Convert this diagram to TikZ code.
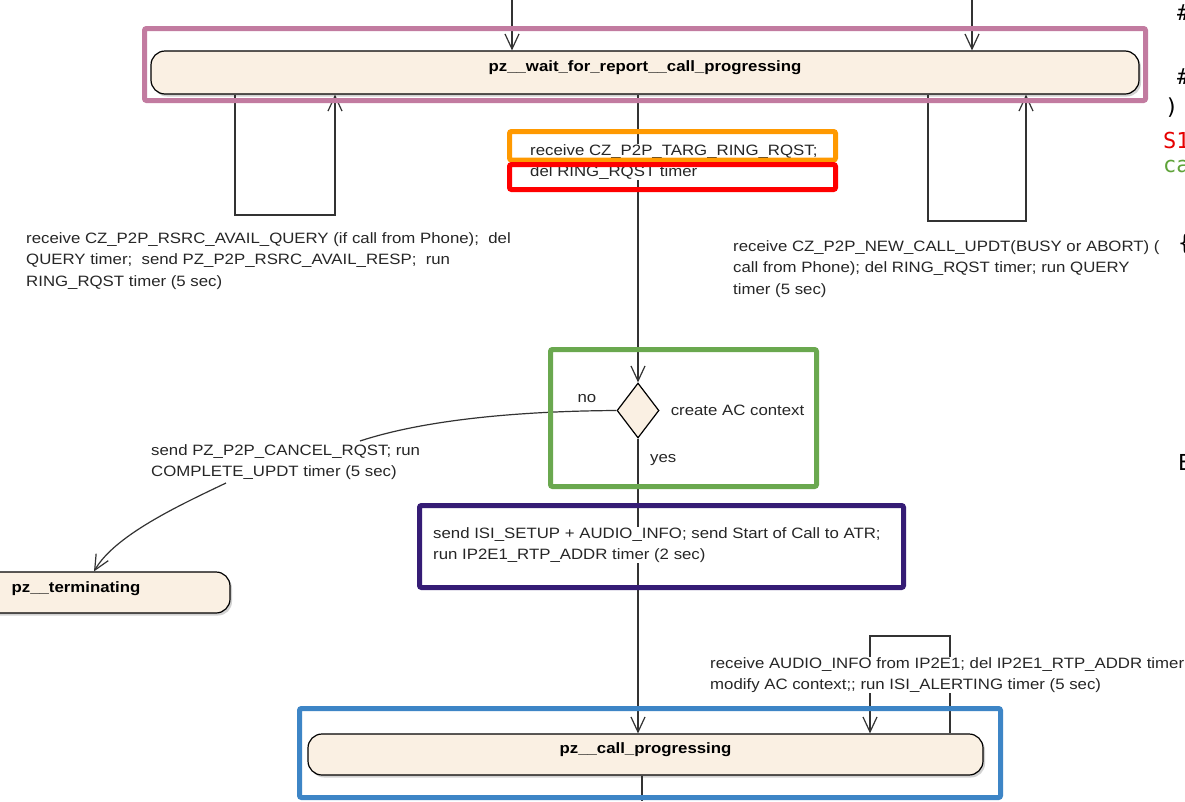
\documentclass[tikz,border=0pt]{standalone}
\usepackage{fontspec}
\setmainfont{Liberation Sans}[FakeStretch=1.12]
\newfontfamily\codefont{DejaVu Sans Mono}
\usetikzlibrary{shapes.geometric, arrows.meta, positioning, shadows}
\definecolor{statefill}{HTML}{FAF0E3}
\definecolor{hlpink}{HTML}{C27BA0}
\definecolor{hlorange}{HTML}{FF9900}
\definecolor{hlred}{HTML}{FF0000}
\definecolor{hlgreen}{HTML}{6AA84F}
\definecolor{hlpurple}{HTML}{351C75}
\definecolor{hlblue}{HTML}{3D85C6}
\definecolor{codered}{HTML}{E60000}
\definecolor{codegreen}{HTML}{5FA33A}
\tikzstyle{statebox} = [rectangle, rounded corners=14pt, draw=black, line width=1.2pt, fill=statefill, inner sep=0pt, text height=11pt, font=\fontsize{15}{18}\selectfont\bfseries, drop shadow={shadow xshift=2pt, shadow yshift=-2.5pt, fill=black!35}]
\tikzstyle{decision} = [diamond, draw=black, line width=1.2pt, fill=statefill, minimum width=42pt, minimum height=55pt, inner sep=0pt]
\tikzstyle{note} = [align=left, inner sep=0pt, fill=white, text=black!85, font=\fontsize{15}{21.8}\selectfont]
\tikzstyle{code} = [anchor=base west, inner sep=0pt, font=\codefont\fontsize{22}{26}\selectfont]
\tikzstyle{wire} = [line width=1.2pt, draw=black!80]
\tikzstyle{arrow} = [wire, -{Straight Barb[length=15pt, width=14pt]}]
\tikzstyle{hilite} = [line width=5pt, rounded corners=2pt]
\begin{document}
\begin{tikzpicture}[x=1pt, y=-1pt, node distance=1cm]
\useasboundingbox [fill=white] (0,0) rectangle (1185,801);
% states and the decision
\node (wait) [statebox, minimum width=988pt, minimum height=43pt, text depth=14pt] at (645,72.5) {pz\_\_wait\_for\_report\_\_call\_progressing};
\node (term) [statebox, minimum width=308pt, minimum height=41pt, text depth=12pt] at (76,592.5) {pz\_\_terminating};
\node (callp) [statebox, minimum width=675pt, minimum height=41pt, text depth=14pt] at (645.5,754.5) {pz\_\_call\_progressing};
\node (dec) [decision] at (638,410.5) {};

\coordinate (ina) at (512,0);
\coordinate (inb) at (972,0);
\coordinate (lla) at (235,215);
\coordinate (llb) at (335,215);
\coordinate (rla) at (928,221);
\coordinate (rlb) at (1026,221);
\coordinate (bla) at (950,636);
\coordinate (blb) at (870,636);
\coordinate (nob) at (360,441);
\coordinate (noc) at (226,483);
\coordinate (outc) at (642,801);

\draw [arrow] (ina) -- (ina |- wait.north);
\draw [arrow] (inb) -- (inb |- wait.north);
\draw [arrow] (wait.south -| lla) -- (lla) -- (llb) -- (wait.south -| llb);
\draw [arrow] (wait.south -| rla) -- (rla) -- (rlb) -- (wait.south -| rlb);
\draw [arrow] (wait.south -| dec.north) -- (dec.north);
\draw [wire] (dec.west) .. controls (530,411) and (430,418) .. (nob);
\draw [arrow] (noc) .. controls (180,505) and (115,535) .. ([xshift=18pt]term.north);
\draw [arrow] (dec.south) -- (callp.north -| dec.south);
\draw [arrow] (callp.north -| bla) -- (bla) -- (blb) -- (callp.north -| blb);
\draw [wire] (callp.south -| outc) -- (outc);

% transition texts (base = baseline of the last line)
\node (ctx) [note, right=11pt of dec] {create AC context};
\node (no) [note, above left=8pt and 20pt of dec.west] {no};
\node (yes) [note, below right=16pt and 12pt of dec.south] {yes};
\node (availq) [note, anchor=base west] at (26,286.6) {receive CZ\_P2P\_RSRC\_AVAIL\_QUERY (if call from Phone);~ del\\QUERY timer;~ send PZ\_P2P\_RSRC\_AVAIL\_RESP;~ run\\RING\_RQST timer (5 sec)};
\node (newcall) [note, anchor=base west] at (733,294.6) {receive CZ\_P2P\_NEW\_CALL\_UPDT(BUSY or ABORT) (\\call from Phone); del RING\_RQST timer; run QUERY\\timer (5 sec)};
\node (ringrq) [note, anchor=base west] at (530,176.8) {receive CZ\_P2P\_TARG\_RING\_RQST;\\del RING\_RQST timer};
\node (cancel) [note, anchor=base west] at (151,476.8) {send PZ\_P2P\_CANCEL\_RQST; run\\COMPLETE\_UPDT timer (5 sec)};
\node (setup) [note, anchor=base west] at (433,559.8) {send ISI\_SETUP + AUDIO\_INFO; send Start of Call to ATR;\\run IP2E1\_RTP\_ADDR timer (2 sec)};
\node (audio) [note, anchor=base west] at (710,689.8) {receive AUDIO\_INFO from IP2E1; del IP2E1\_RTP\_ADDR timer\\modify AC context;; run ISI\_ALERTING timer (5 sec)};

% highlight frames
\draw [hilite, draw=hlpink] (144.5,28.5) rectangle (1145.5,100.5);
\draw [hilite, draw=hlorange] (509.5,131.5) rectangle (835.5,160);
\draw [hilite, draw=hlred] (509.5,164.5) rectangle (835.5,189.5);
\draw [hilite, draw=hlgreen] (550.5,349.5) rectangle (816.5,486.5);
\draw [hilite, draw=hlpurple] (419.5,505.5) rectangle (903.5,587.5);
\draw [hilite, draw=hlblue] (299.5,708.5) rectangle (1000.5,797.5);

% code column on the right
\node (hasha) [code] at (1177,20) {\#};
\node (hashb) [code] at (1177,84) {\#};
\node (paren) [code] at (1165,114) {)};
\node (sone) [code, text=codered] at (1163,148) {S1};
\node (ca) [code, text=codegreen] at (1163,172) {ca};
\node (brace) [code] at (1178,250) {\{};
\node (ee) [code] at (1178,470) {E};
\end{tikzpicture}
\end{document}
